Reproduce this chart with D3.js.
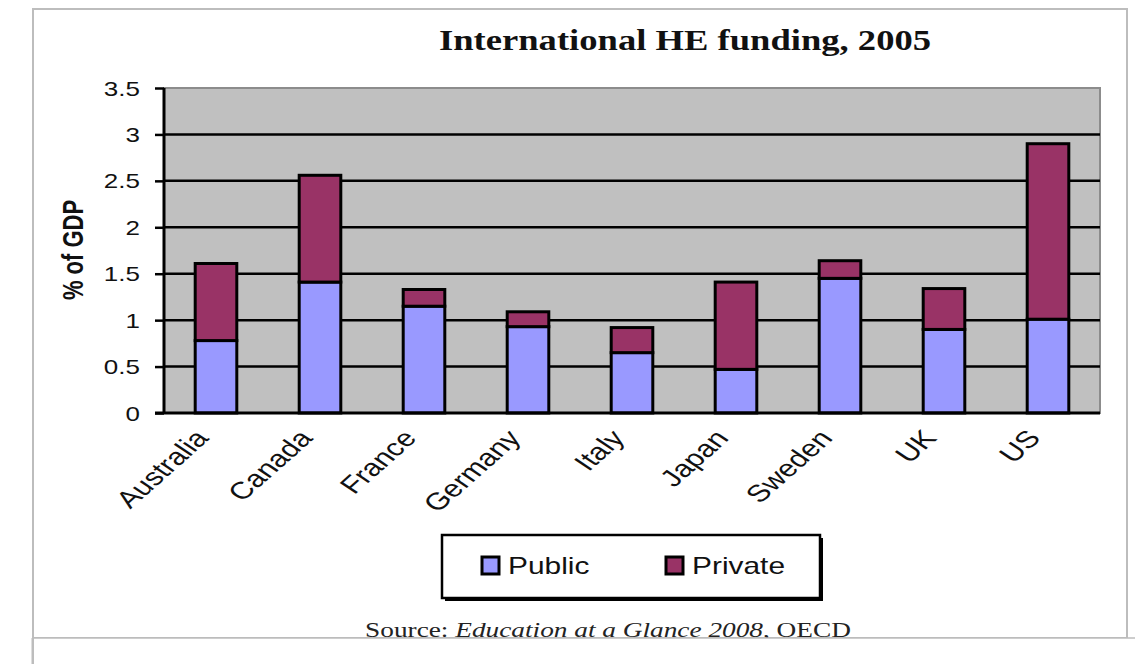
<!DOCTYPE html>
<html>
<head>
<meta charset="utf-8">
<script src="https://cdn.jsdelivr.net/npm/d3@7"></script>
<style>
  html, body { margin: 0; padding: 0; background: #fff; }
  svg { display: block; }
</style>
</head>
<body>
<svg id="chart" width="1135" height="664"></svg>
<script>
// Higher-education funding as % of GDP, 2005
const countries = ["Australia", "Canada", "France", "Germany", "Italy", "Japan", "Sweden", "UK", "US"];
const publicShare = [0.78, 1.41, 1.15, 0.93, 0.65, 0.47, 1.45, 0.90, 1.01];
const privateShare = [0.83, 1.15, 0.18, 0.16, 0.27, 0.94, 0.19, 0.44, 1.89];
const seriesNames = ["Public", "Private"];
const seriesColors = ["#9999ff", "#993366"];
const yTicks = [0, 0.5, 1, 1.5, 2, 2.5, 3, 3.5];

const svg = d3.select("#chart");
const W = 1135, H = 664;
const plot = { left: 164, right: 1100, top: 88, bottom: 413 };
const WIDE = 1.3; // horizontal stretch applied to the lettering
const SANS = "Liberation Sans, Arial, sans-serif";
const SERIF = "Liberation Serif, Times New Roman, serif";

// page frame
svg.append("rect").attr("x", 33).attr("y", 9).attr("width", 1094).attr("height", 629)
  .attr("fill", "#fff").attr("stroke", "#bdbdbd").attr("stroke-width", 2);
svg.append("line").attr("x1", 33).attr("x2", 33).attr("y1", 638).attr("y2", H)
  .attr("stroke", "#bdbdbd").attr("stroke-width", 3);

const x = d3.scaleBand().domain(countries).range([plot.left, plot.right]).paddingInner(0.6).paddingOuter(0.3);
const y = d3.scaleLinear().domain([0, 3.5]).range([plot.bottom, plot.top]);

const rows = countries.map((c, i) => ({ country: c, Public: publicShare[i], Private: privateShare[i] }));
const stacked = d3.stack().keys(seriesNames)(rows);

// plot background
svg.append("rect").attr("x", plot.left).attr("y", plot.top)
  .attr("width", plot.right - plot.left).attr("height", plot.bottom - plot.top)
  .attr("fill", "#c0c0c0").attr("stroke", "#8c8c8c").attr("stroke-width", 2);

// gridlines
svg.append("g").selectAll("line").data(yTicks.filter(t => t > 0 && t < 3.5)).join("line")
  .attr("x1", plot.left).attr("x2", plot.right)
  .attr("y1", d => y(d)).attr("y2", d => y(d))
  .attr("stroke", "#000").attr("stroke-width", 2.5);

// stacked bars
svg.append("g").selectAll("g").data(stacked).join("g")
  .attr("fill", (d, i) => seriesColors[i])
  .selectAll("rect").data(d => d).join("rect")
  .attr("x", d => x(d.data.country))
  .attr("width", x.bandwidth())
  .attr("y", d => y(d[1]))
  .attr("height", d => y(d[0]) - y(d[1]))
  .attr("stroke", "#000").attr("stroke-width", 3);

// y axis
const yAxis = svg.append("g").attr("transform", `translate(${plot.left},0)`)
  .call(d3.axisLeft(y).tickValues(yTicks).tickSize(9).tickFormat(d3.format("")));
yAxis.select(".domain").attr("stroke", "#000").attr("stroke-width", 3)
  .attr("d", `M0,${plot.top}V${plot.bottom}`);
yAxis.selectAll(".tick line").attr("stroke", "#000").attr("stroke-width", 2.5);
yAxis.selectAll(".tick text")
  .attr("x", 0).attr("dy", "0.35em")
  .attr("transform", `translate(-24,0) scale(${WIDE},1)`)
  .attr("font-family", SANS).attr("font-size", 20).attr("fill", "#111");

// x axis
const xAxis = svg.append("g").attr("transform", `translate(0,${plot.bottom})`)
  .call(d3.axisBottom(x).tickSize(0));
xAxis.select(".domain").attr("stroke", "#000").attr("stroke-width", 3)
  .attr("d", `M${plot.left - 9},0H${plot.right}`);
xAxis.selectAll(".tick text")
  .attr("y", 0).attr("dy", 0)
  .attr("font-family", SANS).attr("font-size", 24).attr("fill", "#111")
  .attr("text-anchor", "end")
  .attr("transform", `translate(-6,26) scale(${WIDE},1) rotate(-49)`);

// axis title
svg.append("text").attr("transform", `translate(83,250) scale(${WIDE},1) rotate(-90)`)
  .attr("text-anchor", "middle")
  .attr("font-family", SANS)
  .attr("font-weight", "bold").attr("font-size", 22).attr("fill", "#111")
  .text("% of GDP");

// chart title
svg.append("text").attr("transform", "translate(685,50) scale(1.22,1)")
  .attr("text-anchor", "middle")
  .attr("font-family", SERIF)
  .attr("font-weight", "bold").attr("font-size", 30).attr("fill", "#111")
  .text("International HE funding, 2005");

// legend
const lg = svg.append("g");
lg.append("rect").attr("x", 445).attr("y", 538).attr("width", 378).attr("height", 63).attr("fill", "#000");
lg.append("rect").attr("x", 442).attr("y", 535).attr("width", 378).attr("height", 63)
  .attr("fill", "#fff").attr("stroke", "#000").attr("stroke-width", 2.5);
const legendX = [482, 666];
seriesNames.forEach((name, i) => {
  lg.append("rect").attr("x", legendX[i]).attr("y", 557).attr("width", 17).attr("height", 17)
    .attr("fill", seriesColors[i]).attr("stroke", "#000").attr("stroke-width", 3);
  lg.append("text").attr("transform", `translate(${legendX[i] + 26},574) scale(${WIDE},1)`)
    .attr("font-family", SANS)
    .attr("font-size", 23).attr("fill", "#111").text(name);
});

// source note
const src = svg.append("text").attr("transform", `translate(608,637) scale(${WIDE},1)`)
  .attr("text-anchor", "middle")
  .attr("font-family", SERIF)
  .attr("font-size", 21).attr("fill", "#222");
src.append("tspan").text("Source: ");
src.append("tspan").attr("font-style", "italic").text("Education at a Glance 2008");
src.append("tspan").text(", OECD");

// lower panel edge
svg.append("rect").attr("x", 34).attr("y", 638).attr("width", W - 34).attr("height", H - 638).attr("fill", "#fff");
svg.append("line").attr("x1", 33).attr("x2", W).attr("y1", 638).attr("y2", 638)
  .attr("stroke", "#bdbdbd").attr("stroke-width", 1.5);
</script>
</body>
</html>
